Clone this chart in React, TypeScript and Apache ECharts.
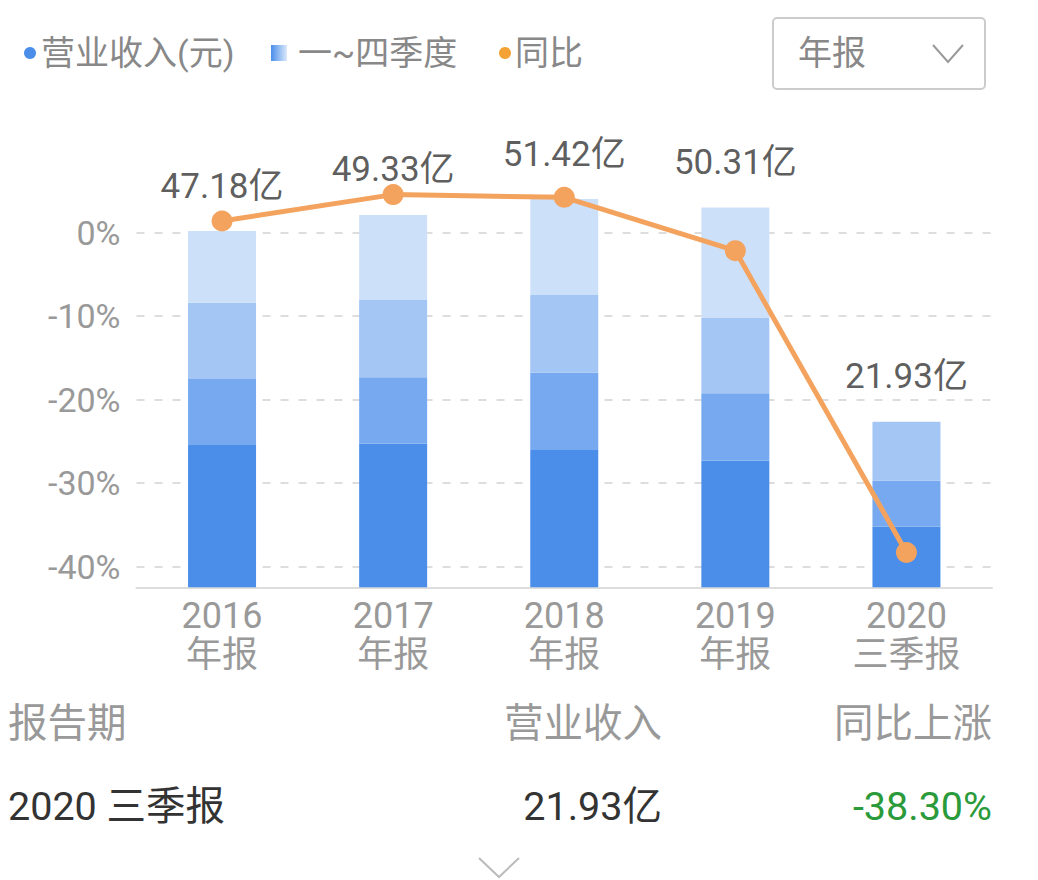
import React, { useEffect, useRef } from "react";
import * as echarts from "echarts";

const categories = ["2016\n年报", "2017\n年报", "2018\n年报", "2019\n年报", "2020\n三季报"];
const q1 = [18.85, 19.05, 18.2, 16.78, 8.05];
const q2 = [8.75, 8.77, 10.22, 8.94, 6.07];
const q3 = [10.1, 10.22, 10.3, 10.01, 7.81];
const q4: (number | null)[] = [9.48, 11.29, 12.7, 14.58, null];
const totals = [47.18, 49.33, 51.42, 50.31, 21.93];
const yoy = [1.4, 4.56, 4.24, -2.16, -38.3];
const pctTicks = [0, -10, -20, -30, -40];

const FONT = "Roboto, 'Noto Sans CJK SC', sans-serif";
const qColors = ["#4a8eea", "#76a9ef", "#a3c6f4", "#cde0f9"];

export default function App() {
  const ref = useRef<HTMLDivElement>(null);
  useEffect(() => {
    if (!ref.current) return;
    const chart = echarts.init(ref.current, undefined, { renderer: "svg" });
    const barSeries = [q1, q2, q3, q4].map((d, i) => ({
      name: "Q" + (i + 1),
      type: "bar",
      stack: "rev",
      yAxisIndex: 1,
      barWidth: 68,
      data: d.map((v) => (v == null ? "-" : v)),
      itemStyle: { color: qColors[i] },
      z: 2,
    }));
    const txt = (x: number, y: number, text: string, fill: string, fontSize: number, align = "left") => ({
      type: "text",
      x,
      y,
      style: { text, fill, fontSize, fontFamily: FONT, verticalAlign: "middle", align },
    });
    chart.setOption({
      animation: false,
      textStyle: { fontFamily: FONT },
      grid: { left: 136.5, right: 46, top: 140, bottom: 292.7 },
      xAxis: {
        type: "category",
        data: categories,
        axisTick: { show: false },
        axisLine: { onZero: false, lineStyle: { color: "#dddddd", width: 2 } },
        axisLabel: { color: "#999999", fontSize: 36, lineHeight: 39, margin: 9, fontFamily: FONT },
      },
      yAxis: [
        {
          type: "value",
          min: -42.47,
          max: 11.1,
          axisLine: { show: false },
          axisTick: { show: false, customValues: pctTicks },
          axisLabel: {
            customValues: pctTicks,
            formatter: (v: number) => v + "%",
            color: "#999999",
            fontSize: 34,
            margin: 16,
            fontFamily: FONT,
          },
          splitLine: { show: true, lineStyle: { color: "#dddddd", width: 2, type: [8, 10] } },
        },
        {
          type: "value",
          min: 0,
          max: 59.25,
          show: false,
          splitLine: { show: false },
        },
      ],
      series: [
        ...barSeries,
        {
          name: "totals",
          type: "scatter",
          yAxisIndex: 1,
          data: totals,
          symbolSize: 1,
          itemStyle: { color: "rgba(0,0,0,0)" },
          label: {
            show: true,
            position: "top",
            distance: 27,
            formatter: (p: any) => p.value + "亿",
            color: "#333333",
            fontSize: 35,
            fontFamily: FONT,
          },
          z: 5,
        },
        {
          name: "同比",
          type: "line",
          yAxisIndex: 0,
          data: yoy,
          symbol: "circle",
          symbolSize: 21,
          lineStyle: { color: "#f4a35e", width: 5 },
          itemStyle: { color: "#f4a35e" },
          z: 4,
        },
      ],
      graphic: [
        { type: "circle", shape: { cx: 30, cy: 53, r: 6 }, style: { fill: "#4a8eea" } },
        txt(41, 53, "营业收入(元)", "#888888", 34),
        {
          type: "rect",
          shape: { x: 271, y: 45, width: 16, height: 16 },
          style: {
            fill: new echarts.graphic.LinearGradient(0, 0, 1, 0, [
              { offset: 0, color: "#4a8eea" },
              { offset: 1, color: "#dbe9fb" },
            ]),
          },
        },
        txt(298, 53, "一~四季度", "#888888", 34),
        { type: "circle", shape: { cx: 505, cy: 53, r: 6 }, style: { fill: "#f4a235" } },
        txt(515, 53, "同比", "#888888", 34),
        {
          type: "rect",
          shape: { x: 773, y: 18, width: 212, height: 71, r: 4 },
          style: { fill: "#ffffff", stroke: "#cccccc", lineWidth: 2 },
        },
        txt(798, 53, "年报", "#888888", 34),
        {
          type: "polyline",
          shape: { points: [[933, 45], [948, 62], [963, 45]] },
          style: { stroke: "#999999", lineWidth: 2, fill: "none" },
        },
        txt(8, 723, "报告期", "#999999", 39.5),
        txt(662, 723, "营业收入", "#999999", 39.5, "right"),
        txt(992, 723, "同比上涨", "#999999", 39.5, "right"),
        txt(8, 806, "2020 三季报", "#333333", 39.5),
        txt(662, 806, "21.93亿", "#333333", 39.5, "right"),
        txt(992, 806, "-38.30%", "#2a9a3a", 39.5, "right"),
        {
          type: "polyline",
          shape: { points: [[479, 858], [499, 877], [519, 858]] },
          style: { stroke: "#bbbbbb", lineWidth: 2, fill: "none" },
        },
      ],
    });
    return () => chart.dispose();
  }, []);
  return (
    <div
      ref={ref}
      style={{ position: "absolute", left: 0, top: 0, width: 1038, height: 880, background: "#ffffff" }}
    />
  );
}
